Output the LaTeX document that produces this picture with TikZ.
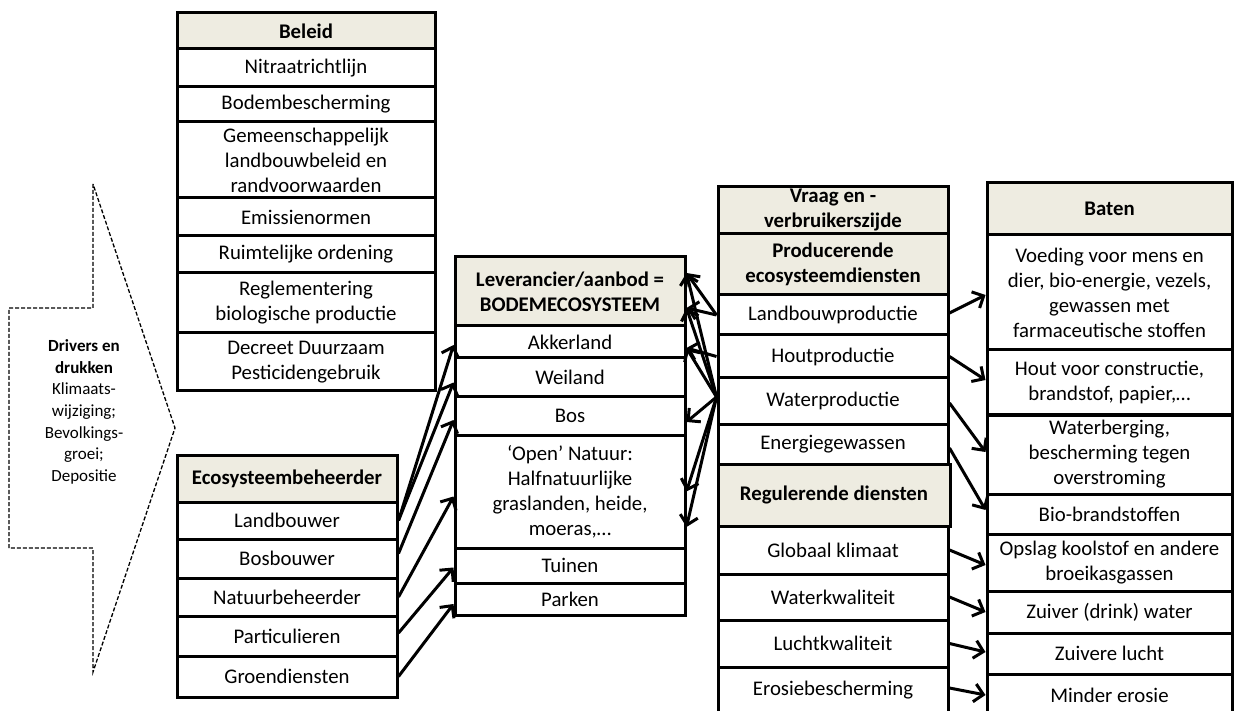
\documentclass[tikz,border=0pt]{standalone}
\usepackage{fontspec}
\setmainfont{Carlito}
\usetikzlibrary{arrows.meta,calc}
\definecolor{headfill}{HTML}{EEECE1}

% \cellbox{name}{x1}{y1}{x2}{y2}{style}{text}: a box spanning the given corners
\newcommand\cellbox[7]{%
  \pgfmathsetmacro\cbw{#4-#2}\pgfmathsetmacro\cbh{#5-#3}%
  \pgfmathsetmacro\cbx{(#2+#4)/2}\pgfmathsetmacro\cby{(#3+#5)/2}%
  \node[#6, minimum width=\cbw pt, minimum height=\cbh pt] (#1) at (\cbx,\cby) {#7};}

\tikzset{
  cell/.style={draw, line width=3pt, fill=white, align=center, inner sep=0pt,
    font=\fontsize{20.8}{25}\selectfont},
  headcell/.style={cell, fill=headfill, font=\fontsize{20.8}{25}\selectfont\bfseries},
  arr/.style={line width=3pt, -{Straight Barb[length=9pt,width=18pt]}},
  driverline/.style={line width=1.3pt, dash pattern=on 4pt off 2pt},
}

\begin{document}
\begin{tikzpicture}[x=1pt,y=-1pt]
\useasboundingbox (0,0) rectangle (1235,711);
\clip (0,0) rectangle (1235,711);

% drivers and pressures
\draw[driverline] (93,184) -- (93,308) -- (9,308) -- (9,548) -- (93,548) -- (93,672) -- (175,428) -- cycle;
\node[align=center, inner sep=0pt, font=\fontsize{17}{21.7}\selectfont] (drv) at (84,412)
  {\textbf{Drivers en}\\\textbf{drukken}\\Klimaats-\\wijziging;\\Bevolkings-\\groei;\\Depositie};

% policy
\cellbox{hbel}{177}{13}{435}{49}{headcell}{Beleid}
\cellbox{b1}{177}{49}{435}{87}{cell}{Nitraatrichtlijn}
\cellbox{b2}{177}{87}{435}{122}{cell}{Bodembescherming}
\cellbox{b3}{177}{122}{435}{198}{cell}{Gemeenschappelijk\\landbouwbeleid en\\randvoorwaarden}
\cellbox{b4}{177}{198}{435}{236}{cell}{Emissienormen}
\cellbox{b5}{177}{236}{435}{273}{cell}{Ruimtelijke ordening}
\cellbox{b6}{177}{273}{435}{333}{cell}{Reglementering\\biologische productie}
\cellbox{b7}{177}{333}{435}{391}{cell}{Decreet Duurzaam\\Pesticidengebruik}

% ecosystem managers
\cellbox{heco}{177}{455}{397}{502}{headcell}{Ecosysteembeheerder}
\cellbox{e1}{177}{502}{397}{539}{cell}{Landbouwer}
\cellbox{e2}{177}{539}{397}{578}{cell}{Bosbouwer}
\cellbox{e3}{177}{578}{397}{616}{cell}{Natuurbeheerder}
\cellbox{e4}{177}{616}{397}{656}{cell}{Particulieren}
\cellbox{e5}{177}{656}{397}{697}{cell}{Groendiensten}

% supply side
\cellbox{hlev}{455}{257}{685}{326}{headcell}{Leverancier/aanbod =\\BODEMECOSYSTEEM}
\cellbox{l1}{455}{326}{685}{358}{cell}{Akkerland}
\cellbox{l2}{455}{358}{685}{397}{cell}{Weiland}
\cellbox{l3}{455}{397}{685}{435}{cell}{Bos}
\cellbox{l4}{455}{435}{685}{548}{cell}{‘Open’ Natuur:\\Halfnatuurlijke\\graslanden, heide,\\moeras,…}
\cellbox{l5}{455}{548}{685}{583}{cell}{Tuinen}
\cellbox{l6}{455}{583}{685}{615}{cell}{Parken}

% demand side
\cellbox{hvr}{718}{187}{948}{234}{headcell}{Vraag en -\\verbruikerszijde}
\cellbox{hpr}{718}{234}{948}{295}{headcell}{Producerende\\ecosysteemdiensten}
\cellbox{p1}{718}{295}{948}{335}{cell}{Landbouwproductie}
\cellbox{p2}{718}{335}{948}{378}{cell}{Houtproductie}
\cellbox{p3}{718}{378}{948}{424}{cell}{Waterproductie}
\cellbox{p4}{718}{424}{948}{464}{cell}{Energiegewassen}
\cellbox{hrg}{718}{464}{950}{526}{headcell}{Regulerende diensten}
\cellbox{r1}{718}{526}{948}{574}{cell}{Globaal klimaat}
\cellbox{r2}{718}{574}{948}{620}{cell}{Waterkwaliteit}
\cellbox{r3}{718}{620}{948}{667}{cell}{Luchtkwaliteit}
\cellbox{r4}{718}{667}{948}{714}{cell}{Erosiebescherming}

% benefits
\cellbox{hbat}{987}{183}{1232}{235}{headcell}{Baten}
\cellbox{t1}{987}{235}{1232}{350}{cell}{Voeding voor mens en\\dier, bio-energie, vezels,\\gewassen met\\farmaceutische stoffen}
\cellbox{t2}{987}{350}{1232}{415}{cell}{Hout voor constructie,\\brandstof, papier,…}
\cellbox{t3}{987}{415}{1232}{494}{cell}{Waterberging,\\bescherming tegen\\overstroming}
\cellbox{t4}{987}{494}{1232}{534}{cell}{Bio-brandstoffen}
\cellbox{t5}{987}{534}{1232}{591}{cell}{Opslag koolstof en andere\\broeikasgassen}
\cellbox{t6}{987}{591}{1232}{633}{cell}{Zuiver (drink) water}
\cellbox{t7}{987}{633}{1232}{674}{cell}{Zuivere lucht}
\cellbox{t8}{987}{674}{1232}{716}{cell}{Minder erosie}

% managers -> land use
\draw[arr] (e1.east) -- ([yshift=-3pt]l1.west);
\draw[arr] (e1.east) -- ([yshift=-5pt]l2.west);
\draw[arr] ([yshift=5pt]e2.east) -- ([yshift=-4pt]l3.west);
\draw[arr] (e3.east) -- ([yshift=-5pt]l4.west);
\draw[arr] ([yshift=3pt]e4.east) -- ([yshift=-2pt]l5.west);
\draw[arr] (e5.east) -- ([yshift=-5pt]l6.west);

% production services -> land use
\draw[arr] (p1.west) -- ([yshift=18.5pt]hlev.east);
\draw[arr] (p1.west) -- ([yshift=-16.5pt]hlev.east);
\draw[arr] (p2.west) -- ([yshift=-6pt]l1.east);
\draw[arr] ([yshift=4pt]p3.west) -- ([yshift=18.5pt]hlev.east);
\draw[arr] ([yshift=4pt]p3.west) -- ([yshift=-16.5pt]hlev.east);
\draw[arr] ([yshift=4pt]p3.west) -- ([yshift=-6pt]l1.east);
\draw[arr] ([yshift=4pt]p3.west) -- ([yshift=-6pt]l3.east);
\draw[arr] ([yshift=4pt]p3.west) -- (l4.east);
\draw[arr] ([yshift=4pt]p3.west) -- ([yshift=-35.5pt]l4.east);

% services -> benefits
\draw[arr] ([yshift=2pt]p1.east) -- ([yshift=-2.5pt]t1.west);
\draw[arr] (p2.east) -- ([yshift=2.5pt]t2.west);
\draw[arr] ([yshift=-2pt]p3.east) -- ([yshift=2.5pt]t3.west);
\draw[arr] ([yshift=-4pt]p4.east) -- ([yshift=4pt]t4.west);
\draw[arr] (r1.east) -- ([yshift=-2.5pt]t5.west);
\draw[arr] (r2.east) -- (t6.west);
\draw[arr] (r3.east) -- ([yshift=1.5pt]t7.west);
\draw[arr] ([yshift=2.5pt]r4.east) -- (t8.west);
\end{tikzpicture}
\end{document}
